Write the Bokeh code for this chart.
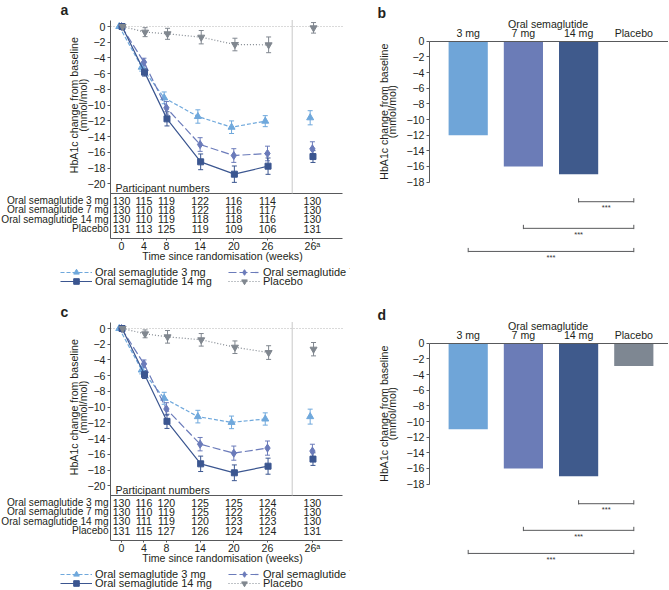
from math import pi
from bokeh.plotting import figure
from bokeh.models import (Range1d, FixedTicker, Legend, LegendItem,
                          Whisker, TeeHead, ColumnDataSource)
from bokeh.layouts import row, column
from bokeh.embed import file_html
from bokeh.resources import INLINE
from bokeh.core.properties import value

# ---------------- data ----------------
weeks = [0, 4, 8, 14, 20, 26]
extra_label = "26ᵃ"
series_names = ["Oral semaglutide 3 mg", "Oral semaglutide 7 mg",
                "Oral semaglutide 14 mg", "Placebo"]

# panel a: mean change (weeks 0..26, then 26a)
a_s3 = [0, -5.17, -9.07, -11.44, -12.8, -12.03, -11.6]
a_s7 = [0, -4.53, -10.34, -15.0, -16.4, -16.14, -15.55]
a_s14 = [0, -5.8, -11.74, -17.2, -18.77, -17.75, -16.53]
a_pl = [0, -0.72, -0.93, -1.36, -2.29, -2.33, -0.17]
a_s3_err = [0, 0.5, 0.75, 0.85, 0.8, 0.7, 0.9]
a_s7_err = [0, 0.5, 0.8, 0.87, 0.87, 0.93, 0.9]
a_s14_err = [0, 0.5, 0.9, 1.0, 1.04, 1.04, 0.75]
a_pl_err = [0, 0.57, 0.7, 0.85, 0.8, 1.0, 0.67]
a_n_s3 = [130, 115, 119, 122, 116, 114, 130]
a_n_s7 = [130, 110, 118, 122, 116, 117, 130]
a_n_s14 = [130, 110, 119, 118, 118, 116, 130]
a_n_pl = [131, 113, 125, 119, 109, 106, 131]

# panel c
c_s3 = [0, -5.27, -8.87, -11.2, -11.93, -11.5, -11.2]
c_s7 = [0, -4.5, -10.23, -14.7, -15.84, -15.2, -15.58]
c_s14 = [0, -5.86, -11.8, -17.2, -18.34, -17.5, -16.6]
c_pl = [0, -0.68, -1.06, -1.44, -2.38, -3.06, -2.63]
c_s3_err = [0, 0.5, 0.76, 0.8, 0.8, 0.78, 0.95]
c_s7_err = [0, 0.5, 0.8, 0.85, 0.9, 0.9, 0.87]
c_s14_err = [0, 0.5, 0.9, 0.98, 1.0, 1.02, 0.8]
c_pl_err = [0, 0.5, 0.8, 0.8, 0.8, 0.87, 0.85]
c_n_s3 = [130, 116, 120, 125, 125, 124, 130]
c_n_s7 = [130, 110, 119, 125, 122, 126, 130]
c_n_s14 = [130, 111, 119, 120, 123, 123, 130]
c_n_pl = [131, 115, 127, 126, 124, 124, 131]

# panels b and d: bars
bar_cats = ["3 mg", "7 mg", "14 mg", "Placebo"]
b_vals = [-12, -16, -17, 0]
d_vals = [-11, -16, -17, -2.9]
sig_from = [2, 1, 0]          # compared with Placebo (index 3)
sig_text = ["***", "***", "***"]

# ---------------- style ----------------
FONT = "Liberation Sans"
TXT = "#231f20"
AX = "#58595b"
line_cols = ["#6fa8dc", "#6b7bba", "#3b5690", "#80878f"]
bar_cols = ["#6fa5d8", "#6b7cb7", "#3f5a8c", "#7e8792"]
markers = ["triangle", "diamond", "square", "inverted_triangle"]
msizes = [7, 8, 6, 7]
dashes = ["4 2", "8 3", "solid", "1 2"]
offsets = [-0.4, 0.0, 0.1, 0.2]
EXTRA_POS = 34
FS = "10.6px"
FS_ROW = "10.1px"
FS_LEG = "11px"


def style_axis(ax):
    ax.axis_line_color = AX
    ax.major_tick_line_color = AX
    ax.minor_tick_line_color = None
    ax.major_label_text_font = FONT
    ax.major_label_text_font_size = FS
    ax.major_label_text_font_style = "normal"
    ax.major_label_text_color = TXT
    ax.major_tick_out = 3
    ax.major_tick_in = 0


def txt(p, x, y, t, align="center", size=FS, **kw):
    p.text(x=[x], y=[y], text=[t], text_align=align, text_baseline="middle",
           text_font=value(FONT), text_font_size=size, text_color=kw.pop("color", TXT), **kw)


def make_fig(xr, yr, W, H, **kw):
    p = figure(x_range=Range1d(*xr), y_range=Range1d(*yr), width=W, height=H,
               min_border=0, min_border_left=0, min_border_right=0,
               min_border_top=0, min_border_bottom=0,
               output_backend="svg", toolbar_location=None, **kw)
    p.outline_line_color = None
    p.xgrid.visible = False
    p.ygrid.visible = False
    return p


def line_panel(letter, vals, errs, counts, fig_h):
    W = 350
    ox, sxp = 121.0, 5.615     # px of week 0 and px per week
    oy, syp = 26.0, 7.868      # px of value 0 and px per unit
    fl, fr, ft, fb = 110, 342, 19.5, 238

    def wx(x):
        return (x - ox) / sxp

    def wy(y):
        return (oy - y) / syp

    p = make_fig((wx(0), wx(W)), (wy(fig_h), wy(0)), W, fig_h)
    ya = p.yaxis[0]
    xa = p.xaxis[0]
    style_axis(ya)
    style_axis(xa)
    yt = list(range(0, -21, -2))
    ya.ticker = FixedTicker(ticks=yt)
    ya.major_label_overrides = {t: str(t).replace("-", "\u2212") for t in yt}
    ya.major_label_standoff = 2
    ya.fixed_location = wx(fl)
    ya.bounds = (wy(fb), wy(ft))
    xt = weeks + [EXTRA_POS]
    xa.ticker = FixedTicker(ticks=xt)
    xa.major_label_overrides = {EXTRA_POS: extra_label}
    xa.major_tick_out = 2
    xa.major_label_standoff = -1
    xa.fixed_location = wy(fb)
    xa.bounds = (wx(fl), wx(fr))

    p.segment(x0=[wx(fl)], x1=[wx(fr)], y0=[0], y1=[0], line_color="#b5b5b5",
              line_dash="1 2", line_width=1, level="underlay")
    table_top = wy(193)
    p.segment(x0=[wx(fl)], x1=[wx(fr)], y0=[table_top], y1=[table_top],
              line_color=AX, line_width=1)
    sep = wx(291.7)
    p.segment(x0=[sep], x1=[sep], y0=[table_top], y1=[wy(ft)], line_color="#c8c8c8", line_width=1)

    legend_refs = []
    for i in range(4):
        v = vals[i]
        e = errs[i]
        off = offsets[i]
        col = line_cols[i]
        xs = [w + off for w in weeks] + [EXTRA_POS + off]
        lr = p.line(xs[:-1], v[:-1], line_color=col, line_width=1.2, line_dash=dashes[i])
        sr = p.scatter(xs, v, marker=markers[i], size=msizes[i], fill_color=col, line_color=col)
        idx = [k for k in range(len(v)) if e[k] > 0]
        wsrc = ColumnDataSource(dict(x=[xs[k] for k in idx],
                                     lo=[v[k] - e[k] for k in idx],
                                     hi=[v[k] + e[k] for k in idx]))
        p.add_layout(Whisker(source=wsrc, base="x", upper="hi", lower="lo",
                             line_color=col, line_width=1,
                             upper_head=TeeHead(size=5, line_color=col, line_width=1),
                             lower_head=TeeHead(size=5, line_color=col, line_width=1)))
        legend_refs.append((lr, sr))

    # participant numbers table
    row_y_ref = [200, 209.3, 218.6, 228]
    txt(p, wx(115), wy(187), "Participant numbers", align="left")
    for r in range(4):
        yy = wy(row_y_ref[r])
        p.text(x=xt, y=[yy] * len(xt), text=[str(n) for n in counts[r]],
               text_align="center", text_baseline="middle", text_font=value(FONT),
               text_font_size=FS, text_color=TXT)
        txt(p, wx(108), yy, series_names[r], align="right", size=FS_ROW)

    # titles
    txt(p, wx(222), wy(255.5), "Time since randomisation (weeks)")
    txt(p, wx(73), -10, "HbA1c change from baseline", angle=pi / 2)
    txt(p, wx(82), -10, "(mmol/mol)", angle=pi / 2)
    txt(p, wx(60), wy(9.5), letter, align="left", size="14px", text_font_style="bold")

    # legends
    pos = [(60, 272), (228, 272), (60, 281), (228, 281)]
    for i in range(4):
        xr, yc = pos[i]
        H = 14
        leg = Legend(items=[LegendItem(label=series_names[i], renderers=list(legend_refs[i]))],
                     location=(xr, fig_h - yc - H / 2),
                     glyph_width=32, glyph_height=H, label_height=H, label_standoff=3,
                     padding=0, margin=0, spacing=0, border_line_color=None,
                     background_fill_alpha=0, label_text_font=FONT,
                     label_text_font_size=FS_LEG, label_text_color=TXT)
        p.add_layout(leg)
    return p


def bar_panel(letter, vals, fig_h):
    W = 318
    ox, sxp = 117.7, 55.2      # px of first category, px per category
    oy, syp = 40.7, 7.83       # px of value 0, px per unit
    fl, fr = 79, 318

    def wx(x):
        return (x - ox) / sxp

    def wy(y):
        return (oy - y) / syp

    p = make_fig((wx(0), wx(W)), (wy(fig_h), wy(0)), W, fig_h, x_axis_location="above")
    xa = p.xaxis[0]
    ya = p.yaxis[0]
    style_axis(xa)
    style_axis(ya)
    xa.major_tick_line_color = None
    xa.major_tick_out = 0
    xa.major_label_standoff = 2
    xpos = list(range(len(bar_cats)))
    xa.ticker = FixedTicker(ticks=xpos)
    xa.major_label_overrides = {i: c for i, c in zip(xpos, bar_cats)}
    xa.fixed_location = 0
    xa.bounds = (wx(fl), wx(fr))

    yt = list(range(0, -19, -2))
    ya.ticker = FixedTicker(ticks=yt)
    ya.major_label_overrides = {t: str(t).replace("-", "\u2212") for t in yt}
    ya.bounds = (-18, 0)
    ya.major_label_standoff = 2
    ya.fixed_location = wx(fl)

    p.vbar(x=xpos, top=0, bottom=vals, width=0.71, fill_color=bar_cols, line_color=None)

    levels = [-20.5, -23.9, -26.85]
    for j, i in enumerate(sig_from):
        yl = levels[j]
        p.segment(x0=[i], x1=[3], y0=[yl], y1=[yl], line_color=AX, line_width=1)
        p.segment(x0=[i, 3], x1=[i, 3], y0=[yl - 0.1] * 2, y1=[yl + 0.45] * 2,
                  line_color=AX, line_width=1)
        txt(p, (i + 3) / 2, yl - 0.8, sig_text[j], size="7.5px", color="#333333")

    txt(p, wx(547.5 - 350), wy(23), "Oral semaglutide")
    txt(p, wx(383.3 - 350), -9, "HbA1c change from baseline", angle=pi / 2)
    txt(p, wx(391.5 - 350), -9, "(mmol/mol)", angle=pi / 2)
    txt(p, wx(377 - 350), wy(12), letter, align="left", size="14px", text_font_style="bold")
    return p


pa = line_panel("a", [a_s3, a_s7, a_s14, a_pl], [a_s3_err, a_s7_err, a_s14_err, a_pl_err],
                [a_n_s3, a_n_s7, a_n_s14, a_n_pl], 302)
pb = bar_panel("b", b_vals, 302)
pc = line_panel("c", [c_s3, c_s7, c_s14, c_pl], [c_s3_err, c_s7_err, c_s14_err, c_pl_err],
                [c_n_s3, c_n_s7, c_n_s14, c_n_pl], 287)
pd = bar_panel("d", d_vals, 287)

layout = column(row(pa, pb), row(pc, pd))
open("out.html", "w").write(file_html(layout, INLINE))
